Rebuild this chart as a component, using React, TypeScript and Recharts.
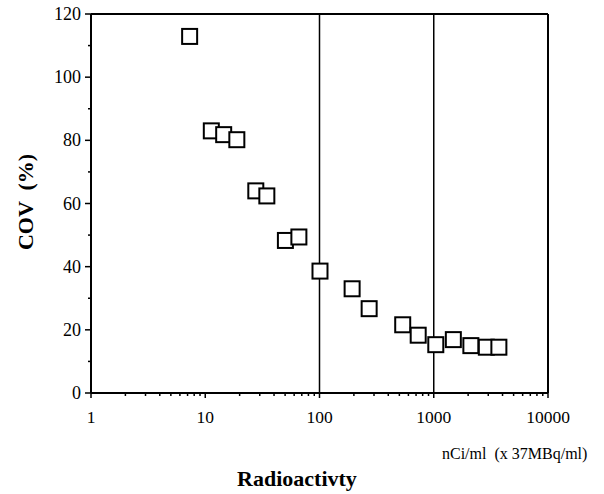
import { ScatterChart, Scatter, XAxis, YAxis, ReferenceLine } from 'recharts'

// nCi/ml vs coefficient of variation (%)
const activity = [7.3, 11.3, 14.5, 18.9, 27.7, 34.6, 50.3, 66, 101, 193, 272, 535, 731, 1042, 1484, 2113, 2886, 3716]
const cov = [112.9, 83, 81.8, 80.2, 64, 62.4, 48.3, 49.4, 38.6, 33, 26.7, 21.6, 18.3, 15.3, 16.9, 15, 14.5, 14.5]

const xMajor = [1, 10, 100, 1000, 10000]
const xMinorSteps = [2, 3, 4, 5, 6, 7, 8, 9]
const yTicks = [0, 10, 20, 30, 40, 50, 60, 70, 80, 90, 100, 110, 120]
const yMajorStep = 20
const dividers = [100, 1000]

const FONT = '"Liberation Serif", "Times New Roman", serif'

const xTicks = [
  ...xMajor,
  ...xMajor.slice(0, -1).flatMap((m) => xMinorSteps.map((s) => m * s)),
].sort((a, b) => a - b)

const data = activity.map((x, i) => ({ x, y: cov[i] }))

const XTick = ({ x, y, payload }: any) => {
  const major = xMajor.includes(payload.value)
  return (
    <g>
      <line x1={x} x2={x} y1={y} y2={y + (major ? 5 : 3)} stroke="#000" strokeWidth={1.5} />
      {major && (
        <text x={x} y={y + 30} textAnchor="middle" fontSize={17.5} fontFamily={FONT} fill="#000">
          {payload.value}
        </text>
      )}
    </g>
  )
}

const YTick = ({ x, y, payload }: any) => {
  const major = payload.value % yMajorStep === 0
  return (
    <g>
      <line x1={x} x2={x - (major ? 6 : 3)} y1={y} y2={y} stroke="#000" strokeWidth={1.5} />
      {major && (
        <text x={x - 10} y={y + 6} textAnchor="end" fontSize={18} fontFamily={FONT} fill="#000">
          {payload.value}
        </text>
      )}
    </g>
  )
}

const Box = ({ cx, cy }: any) => (
  <rect x={cx - 7.5} y={cy - 7.5} width={15} height={15} fill="#fff" stroke="#000" strokeWidth={2} />
)

export default function App() {
  return (
    <div style={{ position: 'absolute', left: 0, top: 0, width: 604, height: 494, background: '#fff' }}>
      <ScatterChart width={604} height={494} margin={{ top: 14, right: 56, bottom: 71, left: 31 }}>
        <XAxis
          type="number"
          dataKey="x"
          scale="log"
          domain={[1, 10000]}
          ticks={xTicks}
          interval={0}
          height={30}
          tickSize={0}
          tickMargin={0}
          tick={<XTick />}
          axisLine={{ stroke: '#000', strokeWidth: 2 }}
          allowDataOverflow
        />
        <YAxis
          type="number"
          dataKey="y"
          domain={[0, 120]}
          ticks={yTicks}
          interval={0}
          width={60}
          tickSize={0}
          tickMargin={0}
          tick={<YTick />}
          axisLine={{ stroke: '#000', strokeWidth: 2 }}
        />
        <Scatter data={data} shape={<Box />} isAnimationActive={false} />
        <ReferenceLine y={120} stroke="#000" strokeWidth={2} />
        <ReferenceLine x={10000} stroke="#000" strokeWidth={2} />
        {dividers.map((d) => (
          <ReferenceLine key={d} x={d} stroke="#000" strokeWidth={1.5} />
        ))}
      </ScatterChart>
      <svg width={604} height={494} style={{ position: 'absolute', left: 0, top: 0, pointerEvents: 'none' }}>
        <text
          x={33}
          y={202}
          transform="rotate(-90 33 202)"
          textAnchor="middle"
          fontSize={22}
          fontWeight="bold"
          fontFamily={FONT}
          fill="#000"
          style={{ whiteSpace: 'pre' }}
        >
          COV  (%)
        </text>
        <text x={297} y={486} textAnchor="middle" fontSize={22} fontWeight="bold" fontFamily={FONT} fill="#000">
          Radioactivty
        </text>
        <text x={442} y={459} fontSize={16} fontFamily={FONT} fill="#000" style={{ whiteSpace: 'pre' }}>
          nCi/ml  (x 37MBq/ml)
        </text>
      </svg>
    </div>
  )
}
